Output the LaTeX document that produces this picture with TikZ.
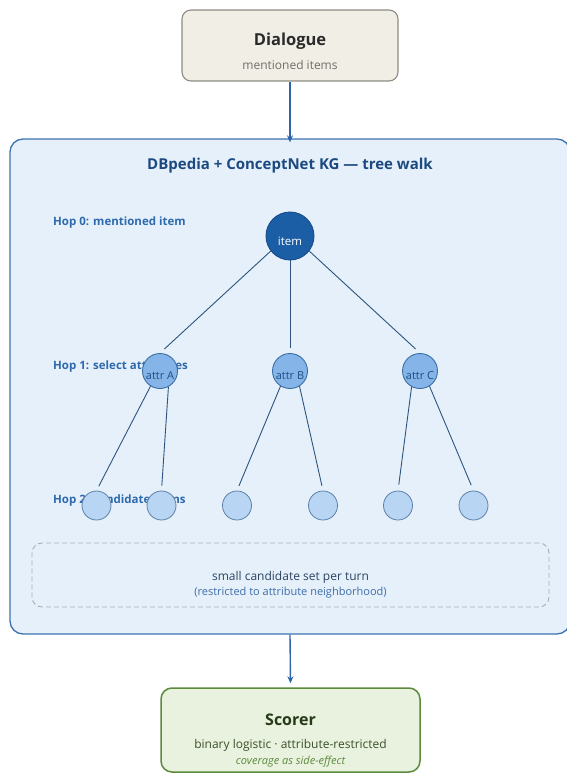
\documentclass[tikz,border=0pt]{standalone}
\usepackage{fontspec}
\setmainfont{Open Sans}
\usetikzlibrary{arrows.meta}

\definecolor{dlgfill}{HTML}{F1EEE6}
\definecolor{dlgline}{HTML}{8E8C82}
\definecolor{dlgtitle}{HTML}{2B2B2B}
\definecolor{dlgsub}{HTML}{6E6E6A}
\definecolor{kgfill}{HTML}{E6F0FA}
\definecolor{kgline}{HTML}{3D72B0}
\definecolor{kgtitle}{HTML}{1C4A80}
\definecolor{hoptext}{HTML}{2E6AAE}
\definecolor{itemfill}{HTML}{1B5EA6}
\definecolor{itemline}{HTML}{164C88}
\definecolor{attrfill}{HTML}{85B5E8}
\definecolor{attrline}{HTML}{3A6EA5}
\definecolor{attrtext}{HTML}{1F4E85}
\definecolor{candfill}{HTML}{B8D5F3}
\definecolor{candline}{HTML}{5C80A8}
\definecolor{edgecol}{HTML}{2D5580}
\definecolor{dashline}{HTML}{A0B0C2}
\definecolor{settext}{HTML}{2A4462}
\definecolor{setsub}{HTML}{3D6EA8}
\definecolor{arrowcol}{HTML}{2E64A8}
\definecolor{scfill}{HTML}{E9F2DE}
\definecolor{scline}{HTML}{5B8A3C}
\definecolor{sctitle}{HTML}{273A18}
\definecolor{scsub}{HTML}{3A4F2A}

\tikzset{
  fs/.style={font=\fontsize{#1}{#1}\selectfont},
  fsb/.style={font=\fontsize{#1}{#1}\selectfont\bfseries},
  fsi/.style={font=\fontsize{#1}{#1}\selectfont\itshape},
  txt/.style={inner sep=0pt, anchor=center},
  panel/.style={rounded corners=#1, inner sep=0pt},
  treeedge/.style={draw=edgecol, line width=0.9pt},
  flow/.style={draw=arrowcol, line width=1.4pt, -{Stealth[length=7pt,width=6pt]}},
  rootnode/.style={circle, draw=itemline, fill=itemfill, line width=0.9pt, minimum size=48pt, inner sep=0pt},
  attrnode/.style={circle, draw=attrline, fill=attrfill, line width=0.9pt, minimum size=35pt, inner sep=0pt},
  candnode/.style={circle, draw=candline, fill=candfill, line width=0.8pt, minimum size=29pt, inner sep=0pt},
  hoplabel/.style={txt, anchor=west, text=hoptext, fsb=11.5},
}

\begin{document}
\begin{tikzpicture}[x=1pt, y=-1pt]
  \useasboundingbox (0,0) rectangle (566,773);

  % Dialogue input
  \node[panel=9pt, draw=dlgline, fill=dlgfill, line width=1.1pt,
        minimum width=216pt, minimum height=71pt] (dlg) at (290,45.5) {};
  \node[txt, text=dlgtitle, fsb=16.5] (dlgT) at (290,41) {Dialogue};
  \node[txt, text=dlgsub, fs=12] (dlgS) at (290,65) {mentioned items};

  % Knowledge-graph panel
  \node[panel=13pt, draw=kgline, fill=kgfill, line width=1.3pt,
        minimum width=560pt, minimum height=495pt] (kg) at (290,386.5) {};
  \node[txt, text=kgtitle, fsb=15] (kgT) at (290,166)
       {DBpedia + ConceptNet KG — tree walk};

  \node[hoplabel] (h0) at (53,223) {Hop 0: mentioned item};
  \node[hoplabel] (h1) at (53,367) {Hop 1: select attributes};
  \node[hoplabel] (h2) at (53,501) {Hop 2: candidate items};

  % tree nodes
  \coordinate (pItem) at (290,236);
  \coordinate (pA) at (160,371);
  \coordinate (pB) at (290,371);
  \coordinate (pC) at (420,371);

  \node[rootnode] (item) at (pItem) {};
  \node[attrnode] (aA) at (pA) {};
  \node[attrnode] (aB) at (pB) {};
  \node[attrnode] (aC) at (pC) {};
  \node[candnode] (c1) at (96.5,505.5) {};
  \node[candnode] (c2) at (161.5,505.5) {};
  \node[candnode] (c3) at (237,505.5) {};
  \node[candnode] (c4) at (323,505.5) {};
  \node[candnode] (c5) at (398,505.5) {};
  \node[candnode] (c6) at (473.5,505.5) {};

  % tree edges
  \draw[treeedge, shorten >=6pt] (item.-142) -- (aA.north);
  \draw[treeedge, shorten >=5pt] (item.south) -- (aB.north);
  \draw[treeedge, shorten >=6pt] (item.-38) -- (aC.north);
  \draw[treeedge, shorten >=5pt] (aA.-122) -- (c1.north);
  \draw[treeedge, shorten >=5pt] (aA.-62) -- (c2.north);
  \draw[treeedge, shorten >=5pt] (aB.-122) -- (c3.north);
  \draw[treeedge, shorten >=5pt] (aB.-58) -- (c4.north);
  \draw[treeedge, shorten >=6pt] (aC.-118) -- (c5.north);
  \draw[treeedge, shorten >=6pt] (aC.-58) -- (c6.north);

  % node texts
  \node[txt, text=white, fs=11.5] (itemT) at ([yshift=-5pt]item) {item};
  \node[txt, text=attrtext, fs=11] (aAT) at ([yshift=-5pt]aA) {attr A};
  \node[txt, text=attrtext, fs=11] (aBT) at ([yshift=-5pt]aB) {attr B};
  \node[txt, text=attrtext, fs=11] (aCT) at ([yshift=-5pt]aC) {attr C};

  % candidate set note
  \node[panel=10pt, draw=dashline, dashed, dash pattern=on 5pt off 3pt, line width=0.9pt,
        minimum width=517pt, minimum height=64pt] (cset) at (290.5,575) {};
  \node[txt, text=settext, fs=12] (csetT) at (290.5,577) {small candidate set per turn};
  \node[txt, text=setsub, fs=11] (csetS) at (290.5,593) {(restricted to attribute neighborhood)};

  % Scorer
  \node[panel=11pt, draw=scline, fill=scfill, line width=1.5pt,
        minimum width=259pt, minimum height=84pt] (sc) at (290.5,730) {};
  \node[txt, text=sctitle, fsb=16] (scT) at (290.5,720) {Scorer};
  \node[txt, text=scsub, fs=12] (scS) at (290.5,745) {binary logistic · attribute-restricted};
  \node[txt, text=scline, fsi=11] (scI) at (290.5,762) {coverage as side-effect};

  % flow arrows
  \draw[flow] (dlg.south) -- ([yshift=-4pt]kg.north);
  \draw[flow] (kg.south) -- ([yshift=4pt]sc.north);
\end{tikzpicture}
\end{document}
